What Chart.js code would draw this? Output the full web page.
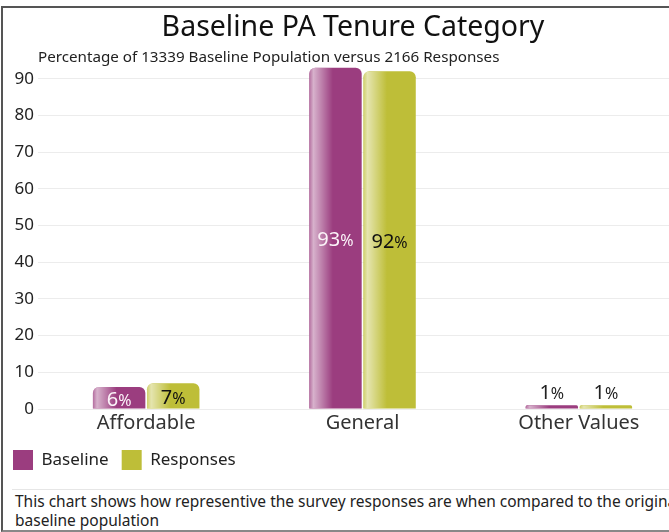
<!DOCTYPE html>
<html>
<head>
<meta charset="utf-8">
<script src="https://cdn.jsdelivr.net/npm/chart.js@4/dist/chart.umd.min.js"></script>
<style>
  body { margin: 0; width: 669px; height: 532px; overflow: hidden; background: #fff; font-family: 'Noto Sans', sans-serif; }
  #wrap { position: relative; width: 669px; height: 532px; }
  #tenure-chart { position: absolute; left: 0; top: 0; }
  .frame { position: absolute; left: 1px; top: 6px; width: 720px; height: 522px;
           border-left: 2px solid #555; border-top: 2px solid #555; border-bottom: 2px solid #888; pointer-events: none; }
  .chart-note { position: absolute; left: 12px; top: 489px; width: 700px; border-top: 1px solid #e6e6e6;
                padding: 2px 0 0 3px; font-size: 15.5px; line-height: 19px; color: #222; }
</style>
</head>
<body>
<div id="wrap">
  <canvas id="tenure-chart" width="706" height="480"></canvas>
  <div class="chart-note">This chart shows how representive the survey responses are when compared to the original baseline population</div>
  <div class="frame"></div>
</div>
<script>
// Tenure categories and percentages
const categories = ["Affordable", "General", "Other Values"];
const baselinePct = [6, 93, 1];
const responsePct = [7, 92, 1];
const yTicks = [0, 10, 20, 30, 40, 50, 60, 70, 80, 90];

const purple = '#9b3d7f';
const olive = '#bebe38';

Chart.defaults.font.family = "'Noto Sans', sans-serif";
Chart.defaults.color = '#222';

// Heading and subtitle drawn above the plot area
const headingPlugin = {
  id: 'heading',
  afterDraw(chart) {
    const c = chart.ctx;
    c.save();
    c.textBaseline = 'middle';
    c.fillStyle = '#111';
    c.textAlign = 'center';
    c.font = "28.5px 'Noto Sans', sans-serif";
    c.fillText('Baseline PA Tenure Category', 353, 28);
    c.textAlign = 'left';
    c.fillStyle = '#222';
    c.font = "15.2px 'Noto Sans', sans-serif";
    c.fillText('Percentage of 13339 Baseline Population versus 2166 Responses', chart.chartArea.left, 58);
    c.restore();
  }
};

// Glossy highlight on the left of each bar, then the value label
const barDecor = {
  id: 'barDecor',
  afterDatasetsDraw(chart) {
    const c = chart.ctx;
    chart.data.datasets.forEach((ds, di) => {
      const meta = chart.getDatasetMeta(di);
      meta.data.forEach((bar, i) => {
        const left = bar.x - bar.width / 2;
        const h = bar.base - bar.y;
        // shine
        c.save();
        c.beginPath();
        c.roundRect(left, bar.y, bar.width, h, [Math.min(6, h), Math.min(6, h), 0, 0]);
        c.clip();
        const g = c.createLinearGradient(left, 0, left + bar.width, 0);
        g.addColorStop(0, 'rgba(255,255,255,0.25)');
        g.addColorStop(0.08, 'rgba(255,255,255,0.6)');
        g.addColorStop(0.45, 'rgba(255,255,255,0)');
        g.addColorStop(1, 'rgba(255,255,255,0)');
        c.fillStyle = g;
        c.fillRect(left, bar.y, bar.width, h);
        c.restore();

        // value label, digits larger than the percent sign
        const val = ds.data[i];
        const inside = h > 15;
        const y = inside ? (bar.y + bar.base) / 2 + 1 : bar.y - 13;
        let col = '#222';
        if (inside) col = di === 0 ? '#fbf3f8' : '#111';
        c.save();
        c.fillStyle = col;
        c.textBaseline = 'alphabetic';
        c.font = "20px 'Noto Sans', sans-serif";
        const num = String(val);
        const nw = c.measureText(num).width;
        c.font = "16px 'Noto Sans', sans-serif";
        const pw = c.measureText('%').width;
        const x0 = bar.x - (nw + pw) / 2;
        c.font = "20px 'Noto Sans', sans-serif";
        c.fillText(num, x0, y + 7);
        c.font = "16px 'Noto Sans', sans-serif";
        c.fillText('%', x0 + nw, y + 7);
        c.restore();
      });
    });
  }
};

const tenureCanvas = document.getElementById('tenure-chart');

let tenureChart = new Chart(tenureCanvas, {
  type: 'bar',
  data: {
    labels: categories,
    datasets: [{
      label: 'Baseline',
      data: baselinePct,
      backgroundColor: purple,
      borderRadius: { topLeft: 6, topRight: 6 },
      borderSkipped: 'bottom',
      barPercentage: 0.97,
      categoryPercentage: 0.5
    }, {
      label: 'Responses',
      data: responsePct,
      backgroundColor: olive,
      borderRadius: { topLeft: 6, topRight: 6 },
      borderSkipped: 'bottom',
      barPercentage: 0.97,
      categoryPercentage: 0.5
    }]
  },
  options: {
    responsive: false,
    animation: false,
    layout: { padding: { left: 0, right: 19, top: 64, bottom: 0 } },
    scales: {
      x: {
        grid: { display: false, drawTicks: false },
        border: { display: false },
        ticks: { font: { size: 20 }, color: '#333', padding: 2 }
      },
      y: {
        min: 0,
        max: 94,
        border: { display: false },
        grid: { color: '#ececec', drawTicks: false },
        ticks: { font: { size: 17 }, color: '#222', padding: 4, stepSize: 10 },
        afterBuildTicks: (axis) => {
          axis.ticks = yTicks.map(v => ({ value: v }));
        },
        afterFit: (axis) => { axis.width = 38; }
      }
    },
    plugins: {
      title: { display: false },
      legend: {
        position: 'bottom',
        align: 'start',
        labels: {
          boxWidth: 20,
          boxHeight: 20,
          padding: 13,
          font: { size: 17 },
          color: '#222'
        }
      },
      tooltip: { enabled: false }
    }
  },
  plugins: [headingPlugin, barDecor]
});
</script>
</body>
</html>
